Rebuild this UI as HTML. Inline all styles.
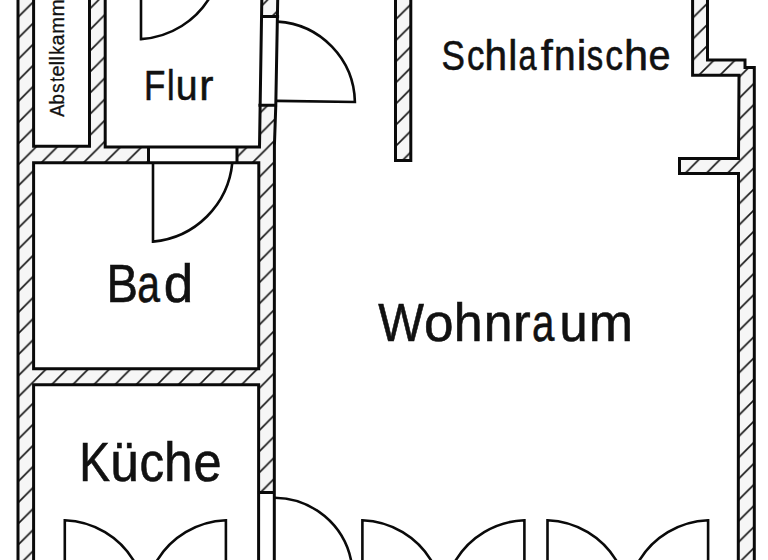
<!DOCTYPE html>
<html><head><meta charset="utf-8"><style>
html,body{margin:0;padding:0;background:#fff;width:768px;height:560px;overflow:hidden}
svg{display:block}
</style></head><body>
<svg width="768" height="560" viewBox="0 0 768 560">
<defs>
<pattern id="h" patternUnits="userSpaceOnUse" width="21.11" height="21.11" patternTransform="translate(14.1,0)">
<rect width="21.11" height="21.11" fill="#f6f6f6"/>
<path d="M-2,2 L2,-2 M0,21.11 L21.11,0 M19.11,23.11 L23.11,19.11" stroke="#151515" stroke-width="1.6" fill="none"/>
</pattern>
</defs>
<rect width="768" height="560" fill="#fff"/>
<path d="M18,0H33.6V560H18Z M89.5,0H105.2V146.5H89.5Z M33.6,146.5H148.5V162.7H33.6Z M237,146.5H259.5V162.7H237Z M261.8,0 L277.7,0 L277.5,16.5 L261.6,16.5Z M259.8,105 L275.8,105 L274.5,146 L259.3,146Z M258.8,146H274.4V492.4H258.8Z M33.6,368.8H258.8V384.8H33.6Z M395.5,0H410.8V160.5H395.5Z M692.6,0 L707.5,0 L707.5,60 L745,60 L745,67.5 L754.3,67.5 L754.3,560 L738.3,560 L739,75.2 L692.6,75.2Z M679.5,158.4H739V173.6H679.5Z" fill="url(#h)"/>
<path d="M18,0 L18,560 M33.6,0 L33.6,146.2 L89.5,146.2 L89.5,0 M105.2,0 L105.2,147 L259.5,147 L261.8,0 M33.6,560 L33.6,384.8 L258.65,384.8 L258.6,560 M33.6,162.7 L33.6,368.8 L258.7,368.8 L258.8,162.7 L33.6,162.7 M148.5,147 L148.5,162.7 M237,147 L237,162.7 M277.7,0 L275.8,105 L274.4,146 L274.3,560 M261.7,16.5 L277.6,16.5 M259.8,105.2 L275.8,105.2 M258.6,492.4 L274.3,492.4 M395.5,0 L395.5,160.5 L410.8,160.5 L410.8,0 M707.5,0 L707.5,60 L745,60 L745,67.5 L754.3,67.5 L754.3,560 M692.6,0 L692.6,75.2 L739,75.2 L738.5,158.4 L679.5,158.4 L679.5,173.6 L738.5,173.6 L738.3,560" stroke="#0a0a0a" stroke-width="3.0" fill="none" stroke-linejoin="miter" stroke-linecap="square"/>
<path d="M141,-5 L141,39.1 A86.46,86.46 0 0 0 211.2,-5 M277,100.9 L354.9,102 A82.2,82.2 0 0 0 277.5,21.6 M153,162.7 L153,241.6 A87.4,87.4 0 0 0 232.3,162.7 M64.8,562 L64.8,520.25 A84.1,84.1 0 0 1 134.50,562 M225.9,562 L225.9,520.25 A84.1,84.1 0 0 0 156.20,562 M362.4,562 L362.4,520.25 A84.1,84.1 0 0 1 432.10,562 M524.4,562 L524.4,520.25 A84.1,84.1 0 0 0 454.70,562 M547.5,562 L547.5,520.25 A84.1,84.1 0 0 1 617.20,562 M708.1,562 L708.1,520.25 A84.1,84.1 0 0 0 638.40,562 M274.7,497.7 A78.7,78.7 0 0 1 351.4,562" stroke="#0a0a0a" stroke-width="2.6" fill="none"/>
<g font-family="Liberation Sans, sans-serif" fill="#111" stroke="#111"><g font-size="43.30" stroke-width="0.6"><text transform="translate(441.41,70.00) scale(0.810,1)">S</text><text transform="translate(467.02,70.00) scale(0.803,1)">c</text><text transform="translate(484.49,70.00) scale(0.936,1)">h</text><text transform="translate(508.24,70.00) scale(0.946,1)">l</text><text transform="translate(518.53,70.00) scale(0.750,1)">a</text><text transform="translate(540.65,70.00) scale(1.000,1)">f</text><text transform="translate(554.12,70.00) scale(0.897,1)">n</text><text transform="translate(576.85,70.00) scale(1.000,1)">i</text><text transform="translate(586.69,70.00) scale(0.757,1)">s</text><text transform="translate(605.29,70.00) scale(0.820,1)">c</text><text transform="translate(624.01,70.00) scale(1.000,1)">h</text><text transform="translate(648.52,70.00) scale(0.915,1)">e</text></g><g font-size="53.20" stroke-width="0.6"><text transform="translate(378.19,341.00) scale(0.910,1)">W</text><text transform="translate(423.97,341.00) scale(0.999,1)">o</text><text transform="translate(453.70,341.00) scale(0.976,1)">h</text><text transform="translate(483.76,341.00) scale(0.973,1)">n</text><text transform="translate(513.12,341.00) scale(1.000,1)">r</text><text transform="translate(531.99,341.00) scale(0.757,1)">a</text><text transform="translate(559.61,341.00) scale(0.951,1)">u</text><text transform="translate(588.83,341.00) scale(1.000,1)">m</text></g><g font-size="53.00" stroke-width="0.6"><text transform="translate(106.43,302.00) scale(0.890,1)">B</text><text transform="translate(137.26,302.00) scale(0.771,1)">a</text><text transform="translate(163.81,302.00) scale(1.000,1)">d</text></g><g font-size="42.50" stroke-width="0.6"><text transform="translate(144.03,100.00) scale(0.823,1)">F</text><text transform="translate(166.90,100.00) scale(0.803,1)">l</text><text transform="translate(175.75,100.00) scale(0.925,1)">u</text><text transform="translate(199.37,100.00) scale(1.000,1)">r</text></g><g font-size="55.00" stroke-width="0.6"><text transform="translate(79.21,481.00) scale(0.840,1)">K</text><text transform="translate(110.22,481.00) scale(0.933,1)">ü</text><text transform="translate(139.61,481.00) scale(0.894,1)">c</text><text transform="translate(163.93,481.00) scale(0.935,1)">h</text><text transform="translate(193.45,481.00) scale(0.918,1)">e</text></g><g font-size="20.93" stroke-width="0.3"><text transform="translate(64.30,116.79) rotate(-90) scale(0.872,1)">A</text><text transform="translate(64.30,104.55) rotate(-90) scale(0.892,1)">b</text><text transform="translate(64.30,92.99) rotate(-90) scale(0.920,1)">s</text><text transform="translate(64.30,81.70) rotate(-90) scale(0.786,1)">t</text><text transform="translate(64.30,76.63) rotate(-90) scale(0.988,1)">e</text><text transform="translate(64.30,65.48) rotate(-90) scale(1.000,1)">l</text><text transform="translate(64.30,60.68) rotate(-90) scale(1.000,1)">l</text><text transform="translate(64.30,54.76) rotate(-90) scale(0.859,1)">k</text><text transform="translate(64.30,45.39) rotate(-90) scale(0.949,1)">a</text><text transform="translate(64.30,33.70) rotate(-90) scale(0.968,1)">m</text><text transform="translate(64.30,16.57) rotate(-90) scale(1.000,1)">m</text></g></g>
</svg>
</body></html>
